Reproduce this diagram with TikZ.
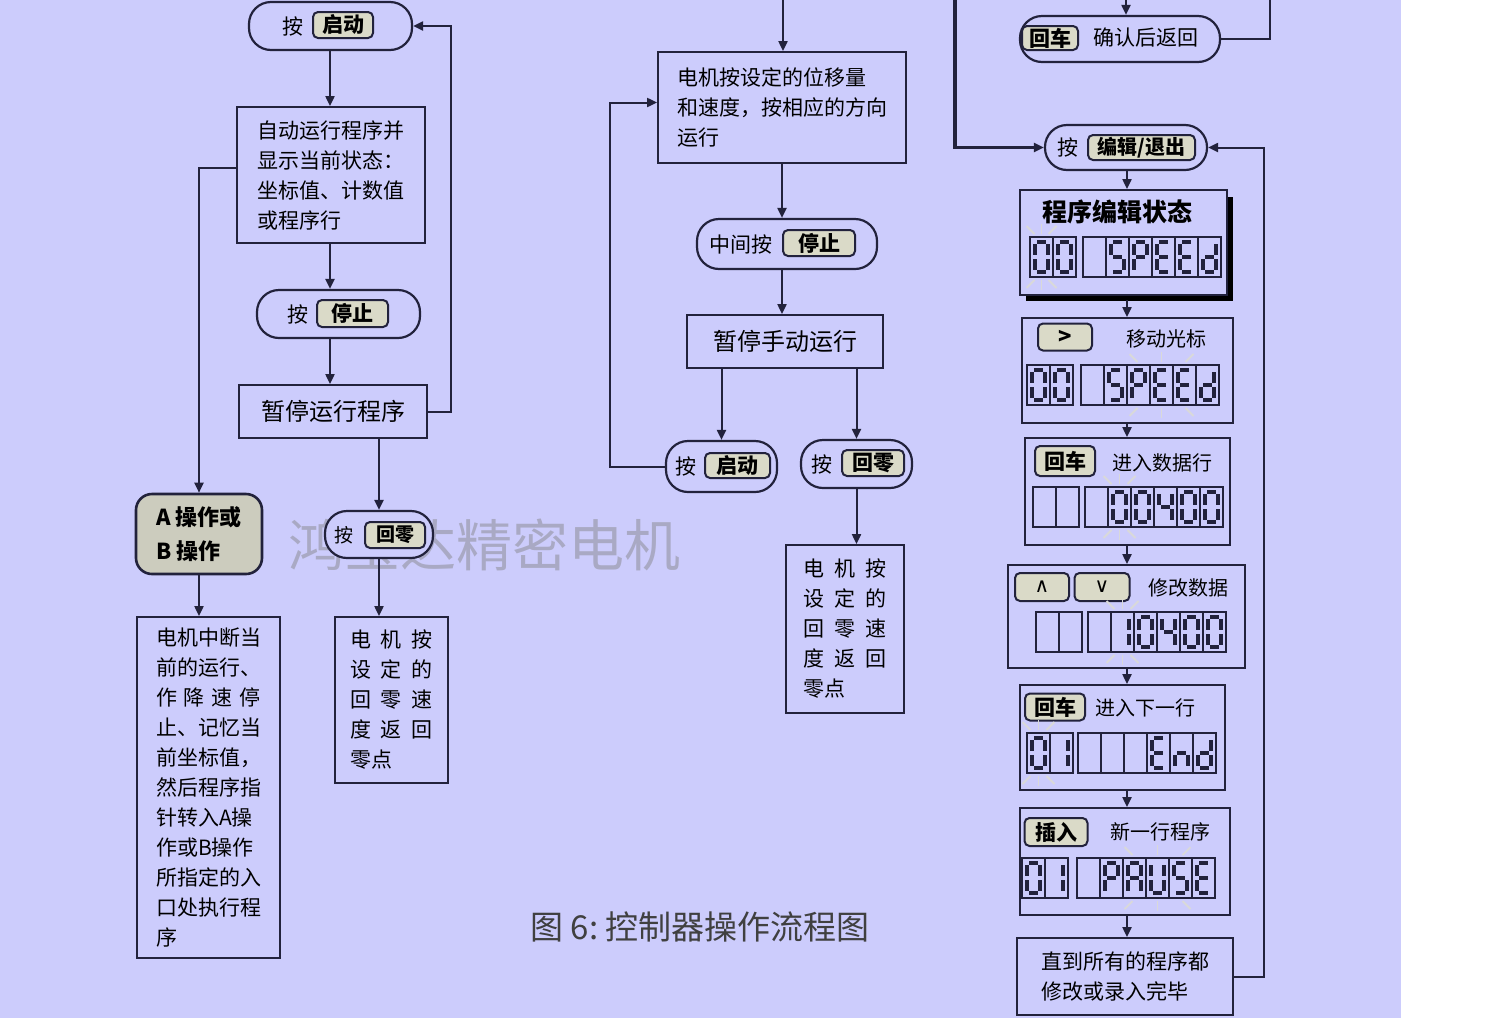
\documentclass[tikz,border=0pt]{standalone}
\usepackage{fontspec}
\setmainfont{Noto Sans CJK SC}
\newfontfamily\symfont{DejaVu Sans}
\usetikzlibrary{arrows.meta,calc,positioning}

\definecolor{bgpanel}{RGB}{204,204,252}
\definecolor{inkline}{RGB}{34,34,60}
\definecolor{keyfill}{RGB}{218,218,200}
\definecolor{opfill}{RGB}{204,204,190}

% seven segment codes
\newcommand\segcode[2]{\expandafter\def\csname lcd#1\endcsname{#2}}
\segcode{x}{z}
\segcode{0}{a,b,c,d,e,f}
\segcode{1}{b,c}
\segcode{4}{b,c,f,g}
\segcode{S}{a,c,d,f,g}
\segcode{P}{a,b,e,f,g}
\segcode{E}{a,d,e,f,g}
\segcode{d}{b,c,d,e,g}
\segcode{n}{c,e,g}
\segcode{A}{a,b,c,e,f,g}
\segcode{U}{b,c,d,e,f}

\newcommand\lcdcell[3]{%
  \draw[lcdframe] (#1,#2) rectangle ++(23,40);
  \foreach \s in #3 {%
    \if a\s \draw[lcdseg] (#1+7,#2+5) -- (#1+16,#2+5);\fi
    \if b\s \draw[lcdseg] (#1+18,#2+7) -- (#1+18,#2+18);\fi
    \if c\s \draw[lcdseg] (#1+18,#2+22) -- (#1+18,#2+33);\fi
    \if d\s \draw[lcdseg] (#1+7,#2+35) -- (#1+16,#2+35);\fi
    \if e\s \draw[lcdseg] (#1+5,#2+22) -- (#1+5,#2+33);\fi
    \if f\s \draw[lcdseg] (#1+5,#2+7) -- (#1+5,#2+18);\fi
    \if g\s \draw[lcdseg] (#1+7,#2+20) -- (#1+16,#2+20);\fi
  }}
\newcommand\lcdrow[3]{%
  \foreach \cellch [count=\cellno from 0] in {#3}{%
    \edef\seglist{\csname lcd\cellch\endcsname}%
    \lcdcell{#1+23*\cellno}{#2}{\seglist}}}
\newcommand\blink[4]{%
  \draw[blinkray] (#1,#2-3) -- (#1,#2-13);
  \draw[blinkray] (#1-#4,#2-3) -- (#1-#4-8,#2-11);
  \draw[blinkray] (#1+#4,#2-3) -- (#1+#4+8,#2-11);
  \draw[blinkray] (#1,#3+3) -- (#1,#3+13);
  \draw[blinkray] (#1-#4,#3+3) -- (#1-#4-8,#3+11);
  \draw[blinkray] (#1+#4,#3+3) -- (#1+#4+8,#3+11);}
\newcommand\gap{\hspace{5pt}}

\tikzset{
  pill/.style={draw=inkline, line width=1.1pt, fill=bgpanel, rounded corners=11pt, inner sep=0pt},
  box/.style={draw=inkline, line width=0.9pt, fill=bgpanel, inner sep=0pt, align=left,
    font=\fontsize{10.5}{15}\selectfont},
  keycap/.style={draw=inkline, line width=1pt, fill=keyfill, rounded corners=2.5pt, inner sep=0pt,
    font=\fontsize{10.5}{12}\selectfont\bfseries},
  tag/.style={inner sep=0pt, font=\fontsize{10.5}{12}\selectfont},
  link/.style={draw=inkline, line width=1pt, -{Triangle[length=5pt,width=4.5pt]}},
  wire/.style={draw=inkline, line width=1pt},
  lcdframe/.style={draw=inkline, line width=0.8pt},
  lcdseg/.style={draw=inkline, line width=1.9pt},
  blinkray/.style={draw=white!70!gray, line width=0.9pt},
}

\begin{document}
\begin{tikzpicture}[x=0.5pt,y=-0.5pt]
  \useasboundingbox (0,0) rectangle (1500,1018);
  \fill[bgpanel] (0,0) rectangle (1401,1018);
  \fill[white] (1401,0) rectangle (1500,1018);

  % watermark, behind the chart
  \node[tag, font=\fontsize{28}{30}\selectfont, text=gray, opacity=0.45] (wm) at (484,545) {鸿宝达精密电机};

  \coordinate (lx) at (330,0);
  \coordinate (mx) at (782,0);
  \coordinate (rx) at (1127,0);
  \coordinate (mtop) at (783,0);
  \coordinate (rtop) at (955,0);
  \coordinate (r1top) at (1126,0);
  \coordinate (r1out) at (1270,0);

  % left column
  \node[pill, minimum width=81.5pt, minimum height=24pt] (l1) at (330.5,26) {};
  \node[tag] (l1tag) at (293,26) {按};
  \node[keycap, minimum width=30pt, minimum height=13pt] (l1key) at (343,25) {启动};
  \node[box, minimum width=94pt, minimum height=68pt] (l2) at (331,175)
    {自动运行程序并\\显示当前状态：\\坐标值、计数值\\或程序行};
  \node[pill, minimum width=81.5pt, minimum height=24pt] (l3) at (338.5,314) {};
  \node[tag] (l3tag) at (298,314) {按};
  \node[keycap, minimum width=35.5pt, minimum height=13.5pt] (l3key) at (352.5,313.5) {停止};
  \node[box, minimum width=94pt, minimum height=26.5pt, font=\fontsize{12}{14}\selectfont] (l4) at (333,411.5) {暂停运行程序};
  \node[draw=inkline, line width=1.3pt, fill=opfill, rounded corners=8pt, inner sep=0pt, align=left,
    minimum width=63pt, minimum height=40pt, font=\fontsize{11}{17}\selectfont\bfseries] (l5) at (199,534)
    {A 操作或\\B 操作};
  \node[pill, minimum width=54pt, minimum height=23.5pt] (l6) at (379,534.5) {};
  \node[tag, font=\fontsize{9.5}{11}\selectfont] (l6tag) at (344,535) {按};
  \node[keycap, minimum width=30pt, minimum height=13pt, font=\fontsize{9.5}{11}\selectfont\bfseries] (l6key) at (395,535) {回零};
  \node[box, minimum width=71.5pt, minimum height=170.5pt] (l7) at (208.5,787.5)
    {电机中断当\\前的运行、\\作\hspace{3.4pt}降\hspace{3.4pt}速\hspace{3.4pt}停\\止、记忆当\\前坐标值，\\然后程序指\\针转入A操\\作或B操作\\所指定的入\\口处执行程\\序};
  \node[box, minimum width=56.5pt, minimum height=83pt] (l8) at (391.5,700)
    {电\gap{}机\gap{}按\\设\gap{}定\gap{}的\\回\gap{}零\gap{}速\\度\gap{}返\gap{}回\\零点};

  \draw[link] (l1.south -| lx) -- (l2.north -| lx);
  \draw[link] (l2.south -| lx) -- (l3.north -| lx);
  \draw[link] (l3.south -| lx) -- (l4.north -| lx);
  \draw[link] (l4.east) -- ++(23,0) |- (l1.east);
  \draw[link] ([yshift=3.5pt]l2.west) -| (l5.north);
  \draw[link] (l4.south -| l6.north) -- (l6.north);
  \draw[link] (l5.south) -- (l5.south |- l7.north);
  \draw[link] (l6.south) -- (l6.south |- l8.north);

  % middle column
  \node[box, minimum width=124pt, minimum height=55.5pt] (m1) at (782,107.5)
    {电机按设定的位移量\\和速度，按相应的方向\\运行};
  \node[pill, minimum width=90pt, minimum height=25pt] (m2) at (787,244) {};
  \node[tag] (m2tag) at (741,244) {中间按};
  \node[keycap, minimum width=36pt, minimum height=13pt] (m2key) at (819,243) {停止};
  \node[box, minimum width=98pt, minimum height=26.5pt, font=\fontsize{12}{14}\selectfont] (m3) at (785,341.5) {暂停手动运行};
  \node[pill, minimum width=55.5pt, minimum height=25.5pt] (m4) at (721.5,466.5) {};
  \node[tag] (m4tag) at (686,466) {按};
  \node[keycap, minimum width=32.5pt, minimum height=12.5pt] (m4key) at (737.5,465.5) {启动};
  \node[pill, minimum width=55.5pt, minimum height=24pt] (m5) at (856.5,464) {};
  \node[tag] (m5tag) at (822,464) {按};
  \node[keycap, minimum width=31pt, minimum height=13pt] (m5key) at (873,463) {回零};
  \node[box, minimum width=59pt, minimum height=84pt] (m6) at (845,629)
    {电\gap{}机\gap{}按\\设\gap{}定\gap{}的\\回\gap{}零\gap{}速\\度\gap{}返\gap{}回\\零点};

  \draw[link] (mtop) -- (m1.north -| mtop);
  \draw[link] (m1.south -| mx) -- (m2.north -| mx);
  \draw[link] (m2.south -| mx) -- (m3.north -| mx);
  \draw[link] (m4.north |- m3.south) -- (m4.north);
  \draw[link] (m5.north |- m3.south) -- (m5.north);
  \draw[link] (m4.west) -- ++(-55,0) |- ([yshift=2.5pt]m1.west);
  \draw[link] (m5.south) -- (m5.south |- m6.north);

  % right column
  \node[pill, minimum width=100pt, minimum height=23pt] (r1) at (1120,39) {};
  \node[keycap, minimum width=28pt, minimum height=12pt] (r1key) at (1050,38) {回车};
  \node[tag] (r1tag) at (1146,38) {确认后返回};
  \node[pill, minimum width=81pt, minimum height=22.5pt] (r2) at (1126,147.5) {};
  \node[tag] (r2tag) at (1068,147) {按};
  \node[keycap, minimum width=53.5pt, minimum height=12.5pt, font=\fontsize{10}{12}\selectfont\bfseries] (r2key) at (1141.5,147.5) {编辑/退出};

  \draw[link] (r1top) -- (r1.north -| r1top);
  \draw[wire] (r1.east) -| (r1out);
  \draw[link, line width=1.8pt] (rtop) |- (r2.west);

  % program edit state
  \draw[black, line width=2.5pt] (1230,197) -- (1230,298) -- (1026,298);
  \node[box, minimum width=103.5pt, minimum height=52.5pt] (r3) at (1123.5,242.5) {};
  \node[tag, font=\fontsize{12.5}{14}\selectfont\bfseries] (r3tag) at (1117,212) {程序编辑状态};
  \lcdrow{1030}{237}{0,0}
  \lcdrow{1083}{237}{x,S,P,E,E,d}
  \blink{1041.5}{237}{277}{7}

  \node[box, minimum width=105.5pt, minimum height=52.5pt] (r4) at (1127.5,370.5) {};
  \node[keycap, minimum width=27pt, minimum height=13.5pt, font=\fontsize{11}{12}\selectfont\bfseries] (r4key) at (1065,337) {>};
  \node[tag, font=\fontsize{10}{12}\selectfont] (r4tag) at (1166,339) {移动光标};
  \lcdrow{1027}{365}{0,0}
  \lcdrow{1081}{365}{x,S,P,E,E,d}
  \blink{1161.5}{365}{405}{24}

  \node[box, minimum width=102.5pt, minimum height=53.5pt] (r5) at (1127.5,491.5) {};
  \node[keycap, minimum width=30pt, minimum height=15pt] (r5key) at (1065,461) {回车};
  \node[tag, font=\fontsize{10}{12}\selectfont] (r5tag) at (1162,463) {进入数据行};
  \lcdrow{1033}{487}{x,x}
  \lcdrow{1085}{487}{x,0,0,4,0,0}
  \blink{1119.5}{487}{527}{8}

  \node[box, minimum width=118.5pt, minimum height=51.5pt] (r6) at (1126.5,616.5) {};
  \node[keycap, minimum width=27pt, minimum height=14pt, font=\fontsize{10}{12}\symfont] (r6up) at (1042,587) {∧};
  \node[keycap, minimum width=27.5pt, minimum height=14pt, font=\fontsize{10}{12}\symfont] (r6down) at (1102,587) {∨};
  \node[tag, font=\fontsize{10}{12}\selectfont] (r6tag) at (1188,588) {修改数据};
  \lcdrow{1036}{612}{x,x}
  \lcdrow{1088}{612}{x,1,0,4,0,0}
  \blink{1122.5}{612}{652}{8}

  \node[box, minimum width=102.5pt, minimum height=52.5pt] (r7) at (1122.5,737.5) {};
  \node[keycap, minimum width=30pt, minimum height=13.5pt] (r7key) at (1055,707) {回车};
  \node[tag, font=\fontsize{10}{12}\selectfont] (r7tag) at (1145,708) {进入下一行};
  \lcdrow{1027}{733}{0,1}
  \lcdrow{1078}{733}{x,x,x,E,n,d}
  \blink{1038.5}{733}{773}{8}

  \node[box, minimum width=105pt, minimum height=53.5pt] (r8) at (1125,861.5) {};
  \node[keycap, minimum width=31.5pt, minimum height=14pt] (r8key) at (1056,832) {插入};
  \node[tag, font=\fontsize{10}{12}\selectfont] (r8tag) at (1160,832) {新一行程序};
  \lcdrow{1022}{858}{0,1}
  \lcdrow{1077}{858}{x,P,A,U,S,E}
  \blink{1157.5}{858}{898}{25}

  \node[box, minimum width=108pt, minimum height=38.5pt, font=\fontsize{10.5}{15}\selectfont] (r9) at (1125,976.5)
    {直到所有的程序都\\修改或录入完毕};

  \draw[link] (r2.south -| rx) -- (r3.north -| rx);
  \draw[link] ([yshift=-2pt]r3.south -| rx) -- (r4.north -| rx);
  \draw[link] (r4.south -| rx) -- (r5.north -| rx);
  \draw[link] (r5.south -| rx) -- (r6.north -| rx);
  \draw[link] (r6.south -| rx) -- (r7.north -| rx);
  \draw[link] (r7.south -| rx) -- (r8.north -| rx);
  \draw[link] (r8.south -| rx) -- (r9.north -| rx);
  \draw[link] (r9.east) -- ++(30,0) |- (r2.east);

  % caption
  \node[tag, font=\fontsize{16.5}{18}\selectfont, text=black!75] (cap) at (700,927) {图 6:\ 控制器操作流程图};
\end{tikzpicture}
\end{document}
